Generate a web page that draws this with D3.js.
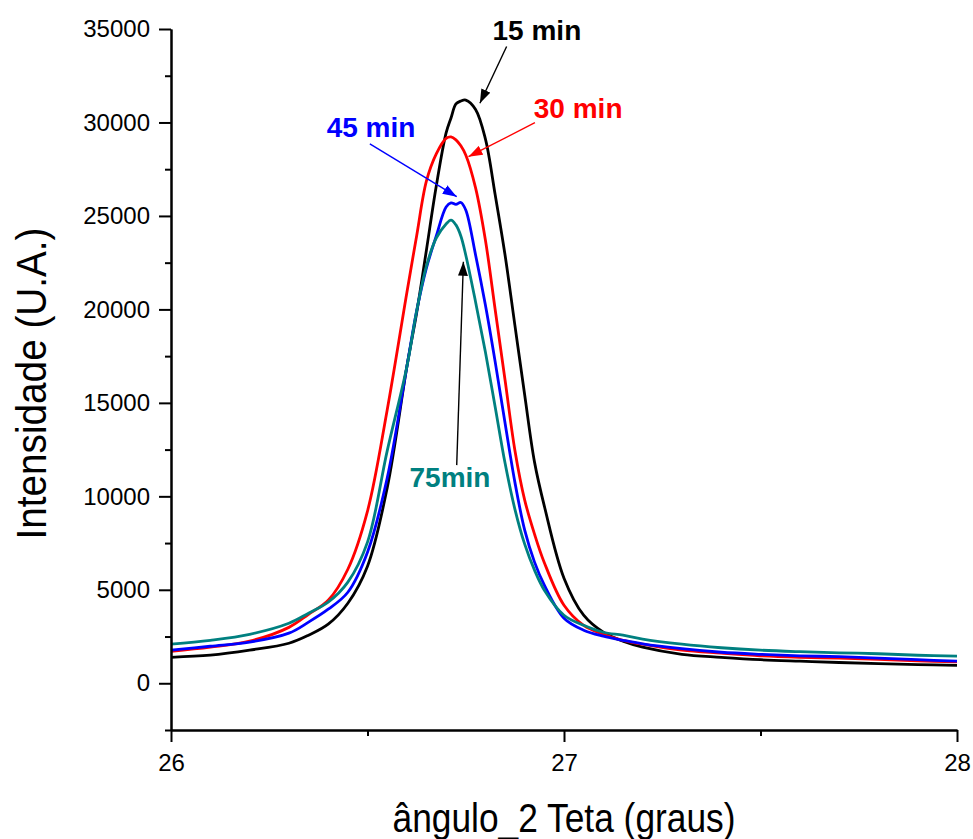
<!DOCTYPE html>
<html>
<head>
<meta charset="utf-8">
<script src="https://cdn.jsdelivr.net/npm/d3@7"></script>
<style>
  body { margin: 0; background: #fff; }
  svg { display: block; }
  text { font-family: "Liberation Sans", Arial, Helvetica, sans-serif; }
</style>
</head>
<body>
<svg id="chart" width="973" height="839"></svg>
<script>
// 2θ positions (degrees) shared by every diffractogram
const twoTheta = [26.00, 26.10, 26.20, 26.30, 26.35, 26.40, 26.45, 26.50, 26.55, 26.60,
  26.625, 26.65, 26.675, 26.70, 26.7125, 26.725, 26.7375, 26.75, 26.775, 26.80,
  26.825, 26.85, 26.875, 26.90, 26.925, 26.95, 27.00, 27.05, 27.10, 27.15,
  27.20, 27.30, 27.40, 27.50, 27.60, 27.70, 27.80, 27.90, 28.00];

// Intensity (U.A.) for each milling time
const int15min = [1390, 1500, 1770, 2140, 2570, 3160, 4280, 6260, 10440, 16920,
  19810, 23180, 26600, 29440, 30240, 30990, 31150, 31200, 30700, 29120,
  26120, 22910, 19160, 15420, 11830, 9475, 5620, 3640, 2730, 2250,
  1930, 1550, 1390, 1260, 1180, 1110, 1050, 1000, 960];
const int30min = [1710, 1930, 2250, 2990, 3690, 4440, 6100, 9210, 14610, 20880,
  23930, 26870, 28320, 29150, 29230, 29070, 28750, 28260, 26500, 23710,
  19970, 16220, 12470, 9800, 7980, 6450, 4175, 3100, 2620, 2300,
  2090, 1770, 1610, 1470, 1390, 1340, 1285, 1200, 1140];
const int45min = [1770, 1980, 2200, 2680, 3270, 3960, 4870, 7010, 10970, 16920,
  19910, 22220, 23930, 25480, 25700, 25620, 25720, 25320, 22910, 20230,
  17180, 13920, 10760, 8190, 6480, 5250, 3480, 2840, 2520, 2300,
  2110, 1850, 1660, 1550, 1470, 1420, 1340, 1260, 1180];
const int75min = [2090, 2300, 2620, 3210, 3750, 4340, 5410, 7550, 12420, 16920,
  19910, 22320, 23820, 24570, 24780, 24520, 23930, 22910, 20400, 17720,
  14770, 11780, 9320, 7440, 6050, 4980, 3640, 3100, 2730, 2570,
  2360, 2090, 1900, 1770, 1690, 1630, 1580, 1500, 1450];

const seriesLabels = ["15 min", "30 min", "45 min", "75min"];
const seriesColors = ["#000000", "#ff0000", "#0000ff", "#008080"];

// Axis ticks
const xMajorTicks = [26, 27, 28];
const xMinorTicks = [26.5, 27.5];
const yMajorTicks = [0, 5000, 10000, 15000, 20000, 25000, 30000, 35000];
const yMinorTicks = [-2500, 2500, 7500, 12500, 17500, 22500, 27500, 32500];

// Callout labels with arrows, in data units (2θ, intensity)
const calloutText   = ["15 min", "30 min", "45 min", "75min"];
const calloutTextX  = [26.931, 27.036, 26.509, 26.710];
const calloutTextY  = [34420, 30240, 29230, 10490];
const arrowFromX    = [26.854, 26.926, 26.506, 26.727];
const arrowFromY    = [34060, 29990, 28850, 11670];
const arrowToX      = [26.786, 26.757, 26.727, 26.744];
const arrowToY      = [31030, 28170, 26030, 22550];
const calloutColors = ["#000000", "#ff0000", "#0000ff", "#008080"];
const arrowColors   = ["#000000", "#ff0000", "#0000ff", "#000000"];

const svg = d3.select("#chart");
const margin = { top: 29, right: 16, bottom: 109, left: 171 };
const W = 973, H = 839;

const x = d3.scaleLinear().domain([26, 28]).range([margin.left, W - margin.right]);
const y = d3.scaleLinear().domain([-2500, 35000]).range([H - margin.bottom, margin.top]);

// Arrowhead markers, one per colour
const defs = svg.append("defs");
const markerColors = Array.from(new Set(arrowColors));
markerColors.forEach((c, i) => {
  defs.append("marker")
    .attr("id", "arrow" + i)
    .attr("viewBox", "0 0 14 10")
    .attr("refX", 14).attr("refY", 5)
    .attr("markerWidth", 14).attr("markerHeight", 10)
    .attr("markerUnits", "userSpaceOnUse")
    .attr("orient", "auto")
    .append("path")
    .attr("d", "M0,0 L14,5 L0,10 Z")
    .attr("fill", c);
});

// Curves
const seriesValues = [int15min, int30min, int45min, int75min];
const line = d3.line()
  .x(d => x(d[0]))
  .y(d => y(d[1]))
  .curve(d3.curveCatmullRom.alpha(0.5));

const series = seriesValues.map((vals, i) => ({
  label: seriesLabels[i],
  color: seriesColors[i],
  points: twoTheta.map((t, j) => [t, vals[j]])
}));

svg.append("g").attr("class", "curves")
  .selectAll("path")
  .data(series)
  .join("path")
  .attr("d", d => line(d.points))
  .attr("fill", "none")
  .attr("stroke", d => d.color)
  .attr("stroke-width", 2.8)
  .attr("stroke-linejoin", "round");

// Axes
const axisFont = 24;
const gx = svg.append("g").attr("transform", `translate(0,${y(-2500)})`);
gx.call(d3.axisBottom(x).tickValues(xMajorTicks).tickFormat(d3.format("d"))
  .tickSize(12).tickSizeOuter(0).tickPadding(12));
const gxMinor = svg.append("g").attr("transform", `translate(0,${y(-2500)})`);
gxMinor.call(d3.axisBottom(x).tickValues(xMinorTicks).tickFormat("").tickSize(6).tickSizeOuter(0));

const gy = svg.append("g").attr("transform", `translate(${x(26)},0)`);
gy.call(d3.axisLeft(y).tickValues(yMajorTicks).tickFormat(d3.format("d"))
  .tickSize(12).tickSizeOuter(0).tickPadding(9));
const gyMinor = svg.append("g").attr("transform", `translate(${x(26)},0)`);
gyMinor.call(d3.axisLeft(y).tickValues(yMinorTicks).tickFormat("").tickSize(6).tickSizeOuter(0));

[gx, gxMinor, gy, gyMinor].forEach(g => {
  g.select(".domain").attr("stroke", "#000").attr("stroke-width", 2);
  g.selectAll(".tick line").attr("stroke", "#000").attr("stroke-width", 2);
  g.selectAll(".tick text")
    .attr("fill", "#000")
    .attr("font-size", axisFont)
    .attr("font-family", '"Liberation Sans", Arial, sans-serif');
});

// Axis titles
svg.append("text")
  .attr("x", (x(26) + x(28)) / 2)
  .attr("y", 832)
  .attr("text-anchor", "middle")
  .attr("font-size", 40)
  .attr("textLength", 343)
  .attr("lengthAdjust", "spacingAndGlyphs")
  .text("ângulo_2 Teta (graus)");

svg.append("text")
  .attr("transform", `translate(46,${(y(-2500) + y(35000)) / 2 + 4}) rotate(-90)`)
  .attr("text-anchor", "middle")
  .attr("font-size", 42)
  .attr("textLength", 312)
  .attr("lengthAdjust", "spacingAndGlyphs")
  .text("Intensidade (U.A.)");

// Callout arrows and labels
const callouts = calloutText.map((t, i) => ({
  text: t,
  tx: calloutTextX[i], ty: calloutTextY[i],
  fx: arrowFromX[i], fy: arrowFromY[i],
  ex: arrowToX[i], ey: arrowToY[i],
  color: calloutColors[i],
  arrow: arrowColors[i]
}));

const ann = svg.append("g").attr("class", "callouts");
ann.selectAll("line")
  .data(callouts)
  .join("line")
  .attr("x1", d => x(d.fx)).attr("y1", d => y(d.fy))
  .attr("x2", d => x(d.ex)).attr("y2", d => y(d.ey))
  .attr("stroke", d => d.arrow)
  .attr("stroke-width", 1.4)
  .attr("marker-end", d => `url(#arrow${markerColors.indexOf(d.arrow)})`);

ann.selectAll("text")
  .data(callouts)
  .join("text")
  .attr("x", d => x(d.tx))
  .attr("y", d => y(d.ty))
  .attr("text-anchor", "middle")
  .attr("font-size", 28)
  .attr("font-weight", "bold")
  .attr("fill", d => d.color)
  .text(d => d.text);
</script>
</body>
</html>
